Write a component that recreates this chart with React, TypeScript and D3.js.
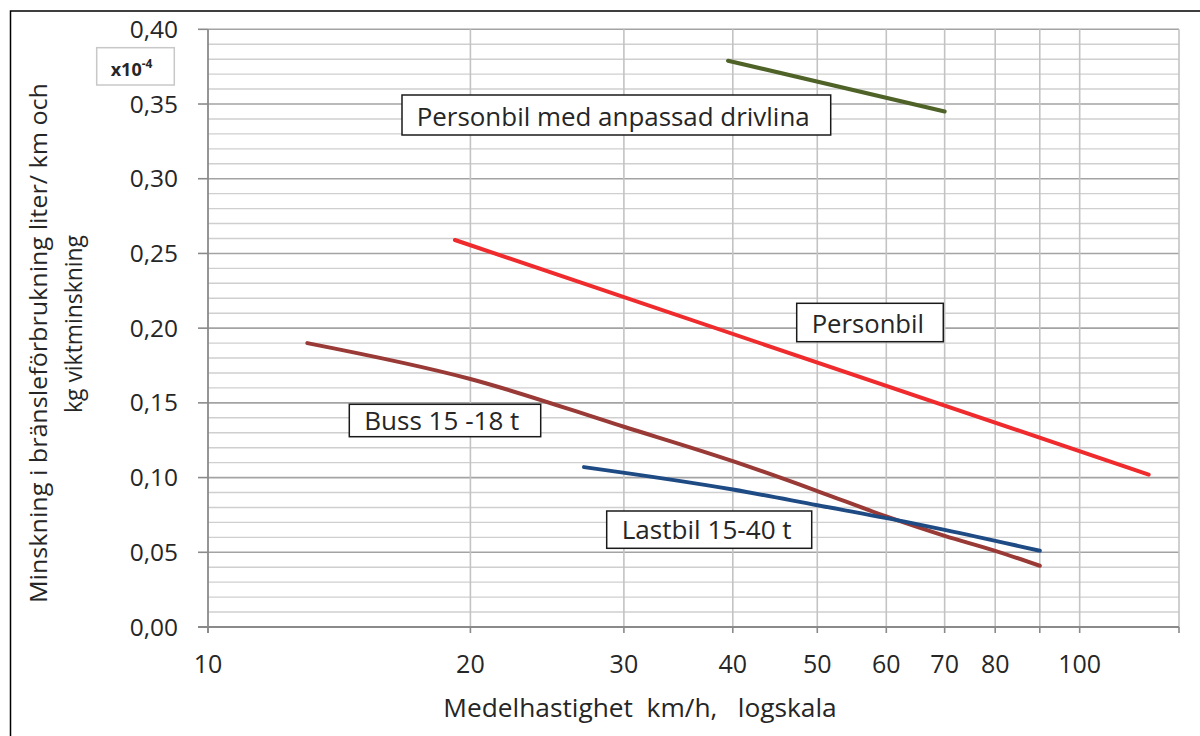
import React from "react";
import * as d3 from "d3";

// Speeds (km/h) and fuel-saving values per kg weight reduction (x10^-4 l/km)
const anpassadSpeed = [39.5, 70];
const anpassadValue = [0.379, 0.345];

const personbilSpeed = [19.2, 120];
const personbilValue = [0.259, 0.102];

const bussSpeed = [13, 20, 30, 40, 50, 60, 70, 80, 90];
const bussValue = [0.19, 0.166, 0.134, 0.111, 0.091, 0.074, 0.061, 0.051, 0.041];

const lastbilSpeed = [27, 40, 50, 63, 70, 90];
const lastbilValue = [0.107, 0.092, 0.0815, 0.0705, 0.065, 0.051];

const xGridValues = [20, 30, 40, 50, 60, 70, 80, 90, 100];
const xTickValues = [10, 20, 30, 40, 50, 60, 70, 80, 90, 100, 130];
const xTickLabels = [10, 20, 30, 40, 50, 60, 70, 80, 100];
const yTickValues = [0, 0.05, 0.1, 0.15, 0.2, 0.25, 0.3, 0.35, 0.4];

const FONT = "'Open Sans', 'Noto Sans', sans-serif";
const TEXT = "#262626";

type Series = { speed: number[]; value: number[]; color: string; curved: boolean };

const seriesList: Series[] = [
  { speed: anpassadSpeed, value: anpassadValue, color: "#4f6228", curved: false },
  { speed: personbilSpeed, value: personbilValue, color: "#ef2b2d", curved: false },
  { speed: bussSpeed, value: bussValue, color: "#993a37", curved: true },
  { speed: lastbilSpeed, value: lastbilValue, color: "#1f4b85", curved: true },
];

export default function App() {
  const left = 208;
  const right = 1179;
  const top = 29.3;
  const bottom = 627;

  const x = d3.scaleLog().domain([10, 130]).range([left, right]);
  const y = d3.scaleLinear().domain([0, 0.4]).range([bottom, top]);

  const minorY = d3.range(0, 41).map((i) => i / 100);

  const fmtY = (v: number) => v.toFixed(2).replace(".", ",");

  const makePath = (s: Series) => {
    const pts = s.speed.map((sp, i) => [sp, s.value[i]] as [number, number]);
    const gen = d3
      .line<[number, number]>()
      .x((d) => x(d[0]))
      .y((d) => y(d[1]))
      .curve(s.curved ? d3.curveMonotoneX : d3.curveLinear);
    return gen(pts) || "";
  };

  const labels = [
    { text: "Personbil med anpassad drivlina", box: [402, 95, 428.7, 40], tx: 416.7, ty: 125.7, len: 393 },
    { text: "Personbil", box: [796.7, 303.3, 146.6, 38.4], tx: 811.7, ty: 332.7, len: 112.3 },
    { text: "Buss 15 -18 t", box: [349.3, 404.3, 191.4, 32.4], tx: 364.3, ty: 430, len: 155 },
    { text: "Lastbil 15-40 t", box: [606.7, 511, 205, 37.3], tx: 621.7, ty: 539.3, len: 170 },
  ];

  return (
    <svg
      width={1200}
      height={736}
      style={{ position: "absolute", left: 0, top: 0, background: "#fff" }}
      fontFamily={FONT}
    >
      <rect x={0} y={0} width={1200} height={736} fill="#fff" />
      {/* chart frame */}
      <rect x={10.5} y={11} width={1300} height={900} fill="none" stroke="#000" strokeWidth={1.5} />

      {/* horizontal gridlines */}
      {minorY.map((v, i) => {
        const major = i % 5 === 0;
        return (
          <line
            key={"hy" + i}
            x1={left}
            x2={right}
            y1={y(v)}
            y2={y(v)}
            stroke={major ? "#a3a3a3" : "#cfcfcf"}
            strokeWidth={major ? 1.6 : 1.4}
          />
        );
      })}

      {/* vertical gridlines */}
      {xGridValues.map((v) => (
        <line key={"gx" + v} x1={x(v)} x2={x(v)} y1={top} y2={bottom} stroke="#c3c3c3" strokeWidth={1.6} />
      ))}
      <line x1={right} x2={right} y1={top} y2={bottom} stroke="#c3c3c3" strokeWidth={1.6} />

      {/* axes */}
      <line x1={198} x2={right} y1={bottom} y2={bottom} stroke="#8a8a8a" strokeWidth={1.8} />
      <line x1={left} x2={left} y1={top} y2={bottom + 6} stroke="#8a8a8a" strokeWidth={1.8} />
      {yTickValues.map((v) => (
        <line key={"ty" + v} x1={198} x2={left} y1={y(v)} y2={y(v)} stroke="#8a8a8a" strokeWidth={1.6} />
      ))}
      {xTickValues.map((v) => (
        <line key={"tx" + v} x1={x(v)} x2={x(v)} y1={bottom} y2={bottom + 6} stroke="#8a8a8a" strokeWidth={1.6} />
      ))}

      {/* y tick labels */}
      {yTickValues.map((v) => (
        <text
          key={"ly" + v}
          x={178}
          y={y(v)}
          dy="0.35em"
          textAnchor="end"
          fontSize={24.5}
          fill={TEXT}
        >
          {fmtY(v)}
        </text>
      ))}

      {/* x tick labels */}
      {xTickLabels.map((v) => (
        <text key={"lx" + v} x={x(v)} y={673} textAnchor="middle" fontSize={25} fill={TEXT}>
          {v}
        </text>
      ))}

      {/* series */}
      {seriesList.map((s, i) => (
        <path
          key={"s" + i}
          d={makePath(s)}
          fill="none"
          stroke={s.color}
          strokeWidth={4}
          strokeLinecap="round"
          strokeLinejoin="round"
        />
      ))}

      {/* series labels */}
      {labels.map((l, i) => (
        <g key={"lab" + i}>
          <rect
            x={l.box[0]}
            y={l.box[1]}
            width={l.box[2]}
            height={l.box[3]}
            fill="#fff"
            stroke="#1a1a1a"
            strokeWidth={1.5}
          />
          <text
            x={l.tx}
            y={l.ty}
            fontSize={25}
            fill={TEXT}
            textLength={l.len}
            lengthAdjust="spacingAndGlyphs"
          >
            {l.text}
          </text>
        </g>
      ))}

      {/* unit box */}
      <rect x={96.7} y={47.7} width={77.6} height={37.3} fill="#fff" stroke="#c8c8c8" strokeWidth={1.5} />
      <text x={110.7} y={76} fontSize={18} fontWeight="bold" fill={TEXT}>
        x10
        <tspan dy={-8} fontSize={12}>
          -4
        </tspan>
      </text>

      {/* axis titles */}
      <text
        x={443.3}
        y={717}
        fontSize={25}
        fill={TEXT}
        textLength={393.4}
        lengthAdjust="spacingAndGlyphs"
        style={{ whiteSpace: "pre" }}
      >
        {"Medelhastighet  km/h,   logskala"}
      </text>
      <text
        transform="translate(46.7,343) rotate(-90)"
        textAnchor="middle"
        fontSize={24}
        fill={TEXT}
        textLength={520}
        lengthAdjust="spacingAndGlyphs"
      >
        Minskning i bränsleförbrukning liter/ km och
      </text>
      <text
        transform="translate(81.7,324) rotate(-90)"
        textAnchor="middle"
        fontSize={24}
        fill={TEXT}
        textLength={178}
        lengthAdjust="spacingAndGlyphs"
      >
        kg viktminskning
      </text>
    </svg>
  );
}
